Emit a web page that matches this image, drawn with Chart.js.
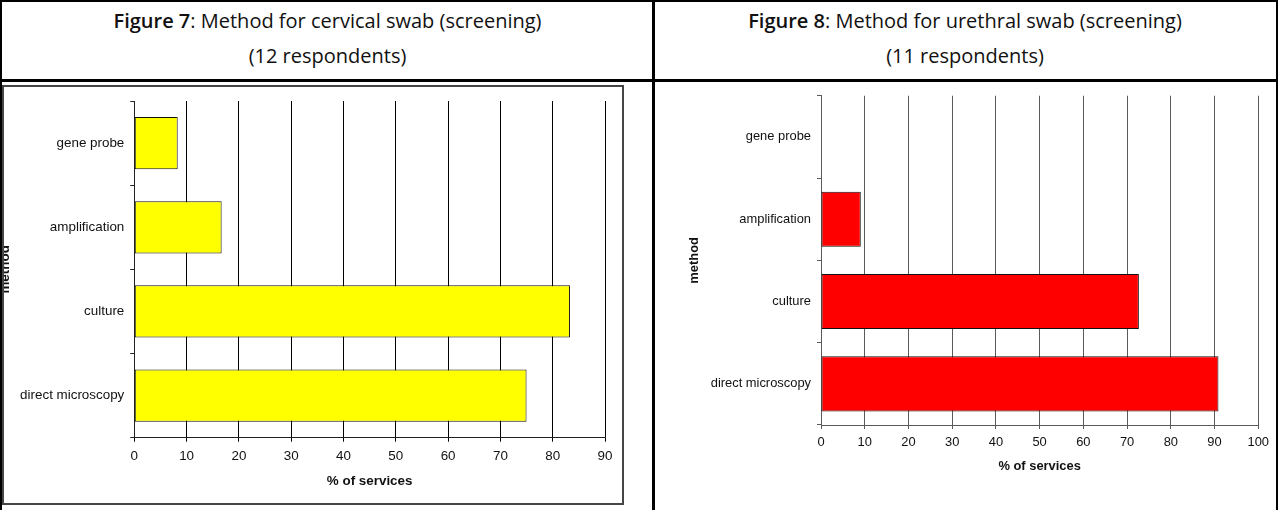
<!DOCTYPE html>
<html lang="en">

<head>
    <meta charset="UTF-8">
    <title>Method for swab (screening)</title>
    <script src="https://cdn.jsdelivr.net/npm/chart.js"></script>
    <style>
        body {
            margin: 0;
            background: #fff;
            width: 1280px;
            height: 510px;
            overflow: hidden;
            position: relative;
        }

        .tabela {
            position: absolute;
            left: 0;
            top: 0;
            width: 1278px;
            height: 600px;
            box-sizing: border-box;
            border: 2.5px solid #000;
        }

        .linhaH {
            position: absolute;
            left: 0;
            top: 79px;
            width: 1278px;
            height: 2.5px;
            background: #000;
        }

        .linhaV {
            position: absolute;
            left: 652px;
            top: 0;
            width: 2.5px;
            height: 510px;
            background: #000;
        }

        .titulo {
            position: absolute;
            top: 3px;
            text-align: center;
            font-family: "Open Sans", sans-serif;
            font-size: 20px;
            line-height: 35px;
            color: #111;
        }

        .titulo b {
            font-weight: 600;
        }

        .caixa {
            position: absolute;
            left: 2px;
            top: 85px;
            width: 622px;
            height: 420px;
            box-sizing: border-box;
            border: 2px solid #454545;
            overflow: hidden;
        }

        #graficoCervical {
            position: absolute;
            left: -9px;
            top: 0;
        }

        #graficoUretral {
            position: absolute;
            left: 655px;
            top: 82px;
        }
    </style>
</head>

<body>
    <div class="tabela"></div>
    <div class="linhaH"></div>
    <div class="linhaV"></div>

    <div class="titulo" style="left:3px;width:649px">
        <div><b>Figure 7</b>: Method for cervical swab (screening)</div>
        <div>(12 respondents)</div>
    </div>
    <div class="titulo" style="left:655px;width:620px">
        <div><b>Figure 8</b>: Method for urethral swab (screening)</div>
        <div>(11 respondents)</div>
    </div>

    <div class="caixa">
        <canvas id="graficoCervical" width="628" height="416"></canvas>
    </div>
    <canvas id="graficoUretral" width="620" height="426"></canvas>

    <script>
        // dados (% of services)
        const metodos = ['gene probe', 'amplification', 'culture', 'direct microscopy'];
        const valoresCervical = [8.3, 16.7, 83.3, 75];
        const valoresUretral = [0, 9.1, 72.7, 90.9];
        const maxCervical = 90;
        const maxUretral = 100;
        const passoX = 10;

        Chart.defaults.font.family = '"Liberation Sans", Arial, sans-serif';
        Chart.defaults.color = '#111';

        // monta a config de um grafico de barras horizontal
        function montarConfig(valores, cor, maximo, o) {
            const dados = {
                labels: metodos,
                datasets: [{
                    label: '% of services',
                    data: valores,
                    backgroundColor: cor,
                    borderColor: '#111',
                    borderWidth: 1,
                    borderSkipped: false,
                    categoryPercentage: 1,
                    barPercentage: o.barra
                }]
            };

            return {
                type: 'bar',
                data: dados,
                options: {
                    indexAxis: 'y',
                    responsive: false,
                    animation: false,
                    layout: {
                        padding: { top: o.topo, right: o.direita, left: 0, bottom: 0 }
                    },
                    plugins: {
                        legend: { display: false },
                        tooltip: { enabled: false }
                    },
                    scales: {
                        x: {
                            min: 0,
                            max: maximo,
                            ticks: { stepSize: passoX, padding: o.padX, color: '#111', font: { size: o.fonte } },
                            grid: { color: o.grade, tickLength: 4, lineWidth: 1 },
                            border: { color: o.eixo, width: 1 },
                            title: {
                                display: true,
                                text: '% of services',
                                color: '#111',
                                font: { size: o.fonte, weight: 'bold' },
                                padding: { top: 0, bottom: o.tituloX }
                            },
                            afterFit: function (scale) { scale.height = o.alturaX; }
                        },
                        y: {
                            offset: true,
                            ticks: { padding: 6, color: '#111', font: { size: o.fonte } },
                            grid: { offset: true, drawOnChartArea: false, color: o.eixo, tickLength: 4 },
                            border: { color: o.eixo, width: 1 },
                            title: {
                                display: true,
                                text: 'method',
                                color: '#111',
                                font: { size: o.fonte, weight: 'bold' },
                                padding: { top: o.tituloY, bottom: 0 }
                            },
                            afterFit: function (scale) { scale.width = o.larguraY; }
                        }
                    }
                }
            };
        }

        // Figure 7 - cervical
        new Chart(document.getElementById('graficoCervical'),
            montarConfig(valoresCervical, '#ffff00', maxCervical, {
                barra: 0.62, topo: 9, direita: 18, padX: 7, fonte: 13.4,
                grade: '#000', eixo: '#222', tituloX: 13.5, tituloY: 2,
                alturaX: 65.3, larguraY: 139.3
            }));

        // Figure 8 - uretral
        new Chart(document.getElementById('graficoUretral'),
            montarConfig(valoresUretral, '#ff0000', maxUretral, {
                barra: 0.67, topo: 13, direita: 15.7, padX: 6, fonte: 12.9,
                grade: '#5a5a5a', eixo: '#5a5a5a', tituloX: 33.6, tituloY: 32,
                alturaX: 83, larguraY: 166
            }));
    </script>
</body>

</html>
